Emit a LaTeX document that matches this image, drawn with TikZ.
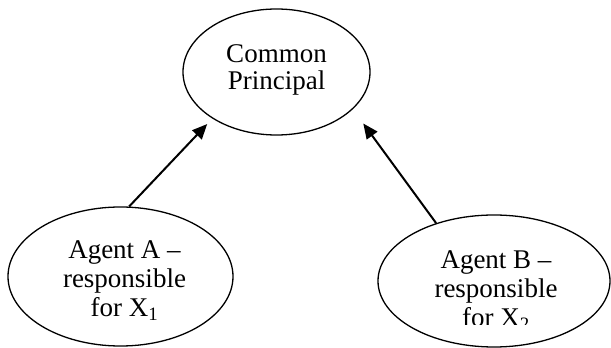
\documentclass[tikz,border=0pt]{standalone}
\usepackage{fontspec}
\setmainfont{Liberation Serif}
\usetikzlibrary{arrows.meta,shapes.geometric}
\begin{document}
\begin{tikzpicture}[x=1pt,y=1pt,
  oval/.style={ellipse, draw, line width=1.3pt, inner sep=0pt},
  ovaltext/.style={font=\fontsize{27}{29}\selectfont, align=center, inner sep=0pt},
  link/.style={-{Triangle[length=15pt,width=13pt]}, line width=2pt}]
\useasboundingbox (0,0) rectangle (611,348);
\node[oval, minimum width=187pt, minimum height=126pt] (P) at (276.5,276) {};
\node[oval, minimum width=225pt, minimum height=139pt] (A) at (120.5,71.5) {};
\node[oval, minimum width=232pt, minimum height=132pt] (B) at (494,67) {};
\node[ovaltext, font=\fontsize{27}{27.5}\selectfont] (Pt) at (276.5,278) {Common\\Principal};
\node[ovaltext] (At) at (124.5,67.5) {Agent A –\\responsible\\for X\textsubscript{1}};
\begin{scope}
  \clip (380,23) rectangle (611,348);
  \node[ovaltext] (Bt) at (496,57.5) {Agent B –\\responsible\\for X\textsubscript{2}};
\end{scope}
\draw[link, shorten >=7.5pt] (A.83) -- (P.216);
\draw[link, shorten >=17.7pt] (B.135) -- (P.334);
\end{tikzpicture}
\end{document}
